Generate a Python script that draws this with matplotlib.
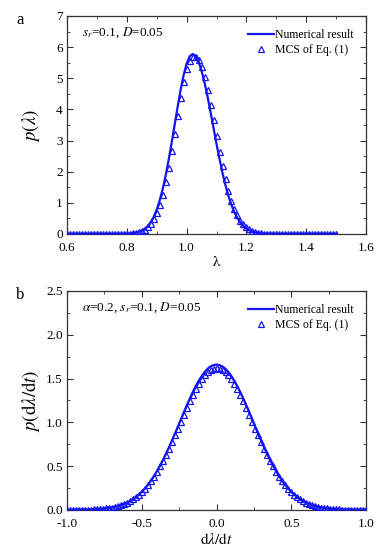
import matplotlib
matplotlib.use("Agg")
import matplotlib.pyplot as plt
from matplotlib.ticker import MultipleLocator, FormatStrFormatter
import numpy as np

# ---- data ----
# panel a: p(lambda), grid 0.60 .. 1.50 step 0.01
lam = np.round(np.arange(0.60, 1.505, 0.01), 2)
p_lam_num = [0.0] * 17 + [
    0.001, 0.002, 0.004, 0.007, 0.013, 0.022, 0.038, 0.064, 0.104, 0.165,
    0.254, 0.38, 0.55, 0.78, 1.08, 1.44, 1.88, 2.38, 2.93, 3.51,
    4.08, 4.63, 5.10, 5.47, 5.70, 5.78,
    5.72, 5.54, 5.24, 4.86, 4.41, 3.92, 3.40, 2.89, 2.41, 1.96,
    1.56, 1.22, 0.93, 0.69, 0.51, 0.36, 0.254, 0.174, 0.117, 0.076,
    0.049, 0.031, 0.019, 0.011, 0.007, 0.004, 0.002, 0.001] + [0.0] * 20
p_lam_mcs = [0.0] * 17 + [
    0.001, 0.002, 0.003, 0.005, 0.010, 0.017, 0.030, 0.051, 0.084, 0.134,
    0.21, 0.32, 0.47, 0.67, 0.93, 1.26, 1.66, 2.13, 2.66, 3.22,
    3.80, 4.36, 4.87, 5.29, 5.57, 5.68,
    5.68, 5.58, 5.37, 5.03, 4.62, 4.15, 3.65, 3.14, 2.64, 2.18,
    1.75, 1.38, 1.07, 0.81, 0.60, 0.43, 0.31, 0.215, 0.146, 0.097,
    0.063, 0.040, 0.025, 0.015, 0.009, 0.005, 0.003, 0.002] + [0.001] + [0.0] * 19

# panel b: p(dlambda/dt), grid -1.0 .. 1.0 step 0.02
dl = np.round(np.arange(-1.0, 1.001, 0.02), 2)
p_dl_num = [
    0.0003, 0.0004, 0.0006, 0.0009, 0.0013, 0.0018, 0.0025, 0.0034, 0.0046, 0.006,
    0.008, 0.0105, 0.0135, 0.017, 0.022, 0.028, 0.035, 0.044, 0.055, 0.068,
    0.083, 0.101, 0.122, 0.146, 0.174, 0.207, 0.244, 0.285, 0.331, 0.382,
    0.438, 0.499, 0.564, 0.634, 0.707, 0.784, 0.864, 0.945, 1.027, 1.109,
    1.190, 1.267, 1.341, 1.410, 1.472, 1.527, 1.574, 1.611, 1.638, 1.654,
    1.66,
    1.654, 1.638, 1.611, 1.574, 1.527, 1.472, 1.410, 1.341, 1.267, 1.190,
    1.109, 1.027, 0.945, 0.864, 0.784, 0.707, 0.634, 0.564, 0.499, 0.438,
    0.382, 0.331, 0.285, 0.244, 0.207, 0.174, 0.146, 0.122, 0.101, 0.083,
    0.068, 0.055, 0.044, 0.035, 0.028, 0.022, 0.017, 0.0135, 0.0105, 0.008,
    0.006, 0.0046, 0.0034, 0.0025, 0.0018, 0.0013, 0.0009, 0.0006, 0.0004, 0.0003]
p_dl_mcs = [
    0.0003, 0.0004, 0.0006, 0.0009, 0.0013, 0.0018, 0.0025, 0.0034, 0.0046, 0.006,
    0.008, 0.0105, 0.0135, 0.017, 0.022, 0.028, 0.035, 0.044, 0.055, 0.068,
    0.083, 0.101, 0.122, 0.146, 0.174, 0.207, 0.244, 0.285, 0.331, 0.382,
    0.438, 0.498, 0.562, 0.630, 0.701, 0.776, 0.852, 0.930, 1.009, 1.088,
    1.166, 1.239, 1.310, 1.377, 1.437, 1.491, 1.537, 1.573, 1.599, 1.614,
    1.62,
    1.614, 1.599, 1.573, 1.537, 1.491, 1.437, 1.377, 1.310, 1.239, 1.166,
    1.088, 1.009, 0.930, 0.852, 0.776, 0.701, 0.630, 0.562, 0.498, 0.438,
    0.382, 0.331, 0.285, 0.244, 0.207, 0.174, 0.146, 0.122, 0.101, 0.083,
    0.068, 0.055, 0.044, 0.035, 0.028, 0.022, 0.017, 0.0135, 0.0105, 0.008,
    0.006, 0.0046, 0.0034, 0.0025, 0.0018, 0.0013, 0.0009, 0.0006, 0.0004, 0.0003]

plt.rcParams["font.family"] = ["Liberation Serif", "DejaVu Serif"]
plt.rcParams["mathtext.fontset"] = "stix"
blue = "#1414f0"
spine = "#333333"

fig = plt.figure(figsize=(3.87, 5.59), dpi=100)
ax1 = fig.add_axes([0.173, 0.5814, 0.773, 0.39])
ax2 = fig.add_axes([0.173, 0.0877, 0.773, 0.3918])


def style(ax):
    for s in ax.spines.values():
        s.set_color(spine)
        s.set_linewidth(0.9)
    ax.tick_params(which="both", direction="in", top=True, right=True,
                   color=spine, labelsize=9.5)
    ax.tick_params(axis="x", pad=5.5)
    ax.tick_params(axis="y", pad=3)
    ax.tick_params(which="major", length=4)
    ax.tick_params(which="minor", length=2)


for ax, x, yn, ym in [(ax1, lam, p_lam_num, p_lam_mcs), (ax2, dl, p_dl_num, p_dl_mcs)]:
    ax.plot(x, yn, color=blue, lw=1.6, label="Numerical result", zorder=2)
    ax.plot(x, ym, ls="none", marker="^", ms=4.6, mfc="none", mec=blue,
            mew=0.9, label="MCS of Eq. (1)", zorder=3)
    style(ax)
    ax.legend(loc="upper right", frameon=False, fontsize=8.5, handlelength=2.2,
              handletextpad=0.1, borderaxespad=0.4, labelspacing=0.3,
              bbox_to_anchor=(0.99, 0.985))

# panel a
ax1.set_xlim(0.6, 1.6)
ax1.set_ylim(0, 7)
ax1.xaxis.set_major_locator(MultipleLocator(0.2))
ax1.xaxis.set_minor_locator(MultipleLocator(0.1))
ax1.yaxis.set_major_locator(MultipleLocator(1))
ax1.yaxis.set_minor_locator(MultipleLocator(0.5))
ax1.xaxis.set_major_formatter(FormatStrFormatter("%.1f"))
ax1.set_xlabel(r"$\mathrm{\lambda}$", fontsize=11, labelpad=1)
ax1.set_ylabel(r"$p(\lambda)$", fontsize=13.5, labelpad=10)
ax1.text(0.05, 0.925, r"$s_r$=0.1, $D$=0.05", transform=ax1.transAxes,
         fontsize=9.5, va="center")

# panel b
ax2.set_xlim(-1.0, 1.0)
ax2.set_ylim(0, 2.5)
ax2.xaxis.set_major_locator(MultipleLocator(0.5))
ax2.xaxis.set_minor_locator(MultipleLocator(0.25))
ax2.yaxis.set_major_locator(MultipleLocator(0.5))
ax2.yaxis.set_minor_locator(MultipleLocator(0.25))
ax2.xaxis.set_major_formatter(FormatStrFormatter("%.1f"))
ax2.yaxis.set_major_formatter(FormatStrFormatter("%.1f"))
ax2.set_xlabel(r"$\mathrm{d}\lambda/\mathrm{d}t$", fontsize=11, labelpad=2)
ax2.set_ylabel(r"$p(\mathrm{d}\lambda/\mathrm{d}t)$", fontsize=13.5, labelpad=3)
ax2.text(0.05, 0.925, r"$\alpha$=0.2, $s_r$=0.1, $D$=0.05", transform=ax2.transAxes,
         fontsize=9.5, va="center")

fig.text(20 / 387, 1 - 20 / 559, "a", fontsize=12, ha="center", va="center")
fig.text(20 / 387, 1 - 295 / 559, "b", fontsize=12, ha="center", va="center")

fig.savefig("out.png", dpi=100)
